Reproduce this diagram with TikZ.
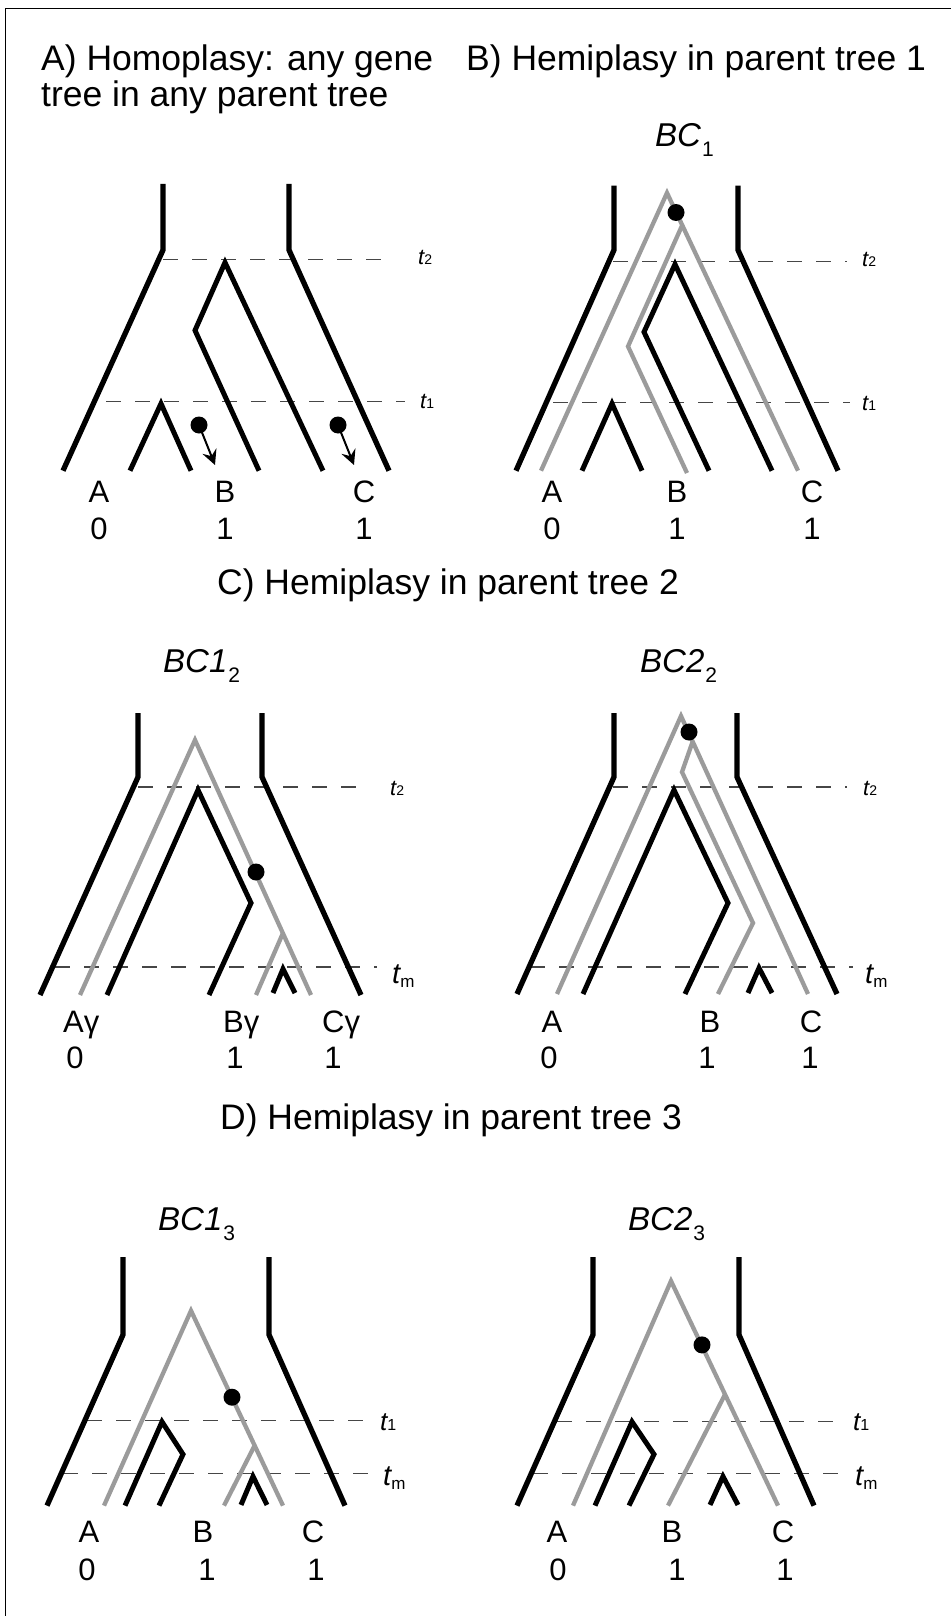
\documentclass[tikz,border=0pt]{standalone}
\usepackage{fontspec}
\setmainfont{Liberation Sans}
\usetikzlibrary{arrows.meta}
\definecolor{genegray}{RGB}{155,155,155}
\definecolor{dashcol}{RGB}{70,70,70}
\newcommand{\tsmall}[1]{{\fontsize{22}{22}\selectfont\itshape t}{\fontsize{14}{14}\selectfont #1}}
\newcommand{\tbig}[1]{{\fontsize{26}{26}\selectfont\itshape t}{\fontsize{16}{16}\selectfont #1}}
\newcommand{\tmlab}{{\fontsize{29}{29}\selectfont\itshape t}\raisebox{-4pt}{\fontsize{17}{17}\selectfont m}}
\newcommand{\hdlab}[2]{{\itshape #1}\kern1pt\raisebox{-10.5pt}{\fontsize{21}{21}\selectfont #2}}
\begin{document}
\begin{tikzpicture}[x=1pt,y=-1pt,
  sp/.style={line width=5.3, black, line join=miter, line cap=butt},
  gn/.style={line width=4.3, genegray, line join=miter, line cap=butt},
  gb/.style={line width=5.0, black, line join=miter, line cap=butt},
  tline/.style={line width=1.1, dashcol, dash pattern=on 15 off 14},
  mut/.style={fill=black},
  ttl/.style={font=\fontsize{35.5}{40}\selectfont, inner sep=0, anchor=base west},
  lab/.style={font=\fontsize{31}{33}\selectfont, inner sep=0, anchor=base},
  hd/.style={font=\fontsize{33}{35}\selectfont, inner sep=0, anchor=base west},
  tl/.style={inner sep=0, anchor=base west},
  mutarrow/.style={line width=2, -{Stealth[length=15, width=15, inset=5.5]}}]
\useasboundingbox (0,0) rectangle (951,1616);
\fill[white] (0,0) rectangle (951,1616);
\draw[line width=1.5] (5.5,1616) -- (5.5,8.5) -- (951,8.5);

% ---------------- titles
\node[ttl] (titA1) at (41,71) {A) Homoplasy: any gene};
\node[ttl] (titA2) at (41,107) {tree in any parent tree};
\node[ttl] (titB) at (466,71) {B) Hemiplasy in parent tree 1};
\node[ttl, anchor=base] (titC) at (448,594) {C) Hemiplasy in parent tree 2};
\node[ttl, anchor=base] (titD) at (451,1129) {D) Hemiplasy in parent tree 3};

% ---------------- panel A
\draw[tline] (163,259.6) -- (393,259.6);
\draw[tline] (106,401.8) -- (405,401.8);
\draw[sp] (163,184) -- (163,250) -- (63,470.7);
\draw[sp] (289,184) -- (289,250) -- (389,470.7);
\draw[gb] (130,470.7) -- (161,403.6) -- (191,470.7);
\draw[gb] (259,470.7) -- (195,330.4) -- (225,262.5) -- (323,470.7);
\coordinate (mA1) at (199,425);
\coordinate (mA1t) at (215,465);
\coordinate (mA2) at (338,425);
\coordinate (mA2t) at (354,465);
\draw[mutarrow] (mA1) -- (mA1t);
\draw[mutarrow] (mA2) -- (mA2t);
\fill[mut] (mA1) circle (8.5);
\fill[mut] (mA2) circle (8.5);
\node[tl] (tA2) at (418,264) {\tsmall{2}};
\node[tl] (tA1) at (420,408) {\tsmall{1}};
\node[lab] (lAa) at (99,502) {A};
\node[lab] (lAb) at (225,502) {B};
\node[lab] (lAc) at (364,502) {C};
\node[lab] (dAa) at (99,539) {0};
\node[lab] (dAb) at (225,539) {1};
\node[lab] (dAc) at (364,539) {1};

% ---------------- panel B
\node[hd] (hB) at (655,146.5) {\hdlab{BC}{1}};
\draw[tline] (613,261.8) -- (847,261.8);
\draw[tline] (553,402.9) -- (850,402.9);
\draw[sp] (614,185.7) -- (614,250) -- (516,470.7);
\draw[sp] (738,185.7) -- (738,250) -- (838,470.7);
\draw[gb] (582,470.7) -- (612,403.6) -- (642,470.7);
\draw[gb] (709,470.7) -- (644,332) -- (675,264.3) -- (772,470.7);
\draw[gn] (541,470.7) -- (667,192.9) -- (798,470.7);
\draw[gn] (682.3,225) -- (628,346.4) -- (687,473);
\fill[mut] (676,212.5) circle (8.5);
\node[tl] (tB2) at (862,266) {\tsmall{2}};
\node[tl] (tB1) at (862,410) {\tsmall{1}};
\node[lab] (lBa) at (552,502) {A};
\node[lab] (lBb) at (677,502) {B};
\node[lab] (lBc) at (812,502) {C};
\node[lab] (dBa) at (552,539) {0};
\node[lab] (dBb) at (677,539) {1};
\node[lab] (dBc) at (812,539) {1};

% ---------------- panel C left
\node[hd] (hC1) at (163,672) {\hdlab{BC1}{2}};
\draw[tline] (138,787) -- (370,787);
\draw[tline] (55,967) -- (377,967);
\draw[sp] (138,713) -- (138,777) -- (40,995);
\draw[sp] (262,713) -- (262,777) -- (361,995);
\draw[gn] (80,995) -- (195,740) -- (311,995);
\draw[gn] (283,933) -- (256,995);
\draw[gb] (107,995) -- (198,790) -- (251,903) -- (209,995);
\draw[gb] (273,993) -- (283,969) -- (295,993);
\fill[mut] (256,872) circle (8.5);
\node[tl] (tC12) at (390,795) {\tsmall{2}};
\node[tl] (tC1m) at (392,983) {\tmlab};
\node[lab, anchor=base west] (lC1a) at (63,1032) {Aγ};
\node[lab, anchor=base west] (lC1b) at (223,1032) {Bγ};
\node[lab, anchor=base west] (lC1c) at (322,1032) {Cγ};
\node[lab] (dC1a) at (75,1068) {0};
\node[lab] (dC1b) at (235,1068) {1};
\node[lab] (dC1c) at (333,1068) {1};

% ---------------- panel C right
\node[hd] (hC2) at (640,672) {\hdlab{BC2}{2}};
\draw[tline] (613,787) -- (847,787);
\draw[tline] (530,967) -- (853,967);
\draw[sp] (614,713) -- (614,777) -- (517,994);
\draw[sp] (737,713) -- (737,777) -- (837,994);
\draw[gn] (557,994) -- (681,716) -- (808,994);
\draw[gn] (692.5,742) -- (682,772) -- (753,923) -- (718,994);
\draw[gb] (583,994) -- (674,790) -- (728,903) -- (685,994);
\draw[gb] (748,993) -- (759,968) -- (772,993);
\fill[mut] (689,732) circle (8.5);
\node[tl] (tC22) at (863,795) {\tsmall{2}};
\node[tl] (tC2m) at (865,983) {\tmlab};
\node[lab] (lC2a) at (552,1032) {A};
\node[lab] (lC2b) at (710,1032) {B};
\node[lab] (lC2c) at (811,1032) {C};
\node[lab] (dC2a) at (549,1068) {0};
\node[lab] (dC2b) at (707,1068) {1};
\node[lab] (dC2c) at (810,1068) {1};

% ---------------- panel D left
\node[hd] (hD1) at (158,1230.4) {\hdlab{BC1}{3}};
\draw[tline] (87,1420.8) -- (372,1420.8);
\draw[tline] (63,1473.1) -- (372,1473.1);
\draw[sp] (123,1257) -- (123,1334.7) -- (47,1505.6);
\draw[sp] (269,1257) -- (269,1334.7) -- (345,1505.6);
\draw[gn] (104,1505.6) -- (191,1310.7) -- (283,1505.6);
\draw[gn] (254.5,1445.8) -- (224,1505.6);
\draw[gb] (125,1505.6) -- (162,1421.8) -- (183,1454.3) -- (159,1505.6);
\draw[gb] (241,1504.9) -- (253,1476.5) -- (267,1504.9);
\fill[mut] (232,1397.2) circle (8.5);
\node[tl] (tD11) at (380,1430) {\tbig{1}};
\node[tl] (tD1m) at (383,1485) {\tmlab};
\node[lab] (lD1a) at (89,1542) {A};
\node[lab] (lD1b) at (203,1542) {B};
\node[lab] (lD1c) at (313,1542) {C};
\node[lab] (dD1a) at (87,1580.5) {0};
\node[lab] (dD1b) at (207,1580.5) {1};
\node[lab] (dD1c) at (316,1580.5) {1};

% ---------------- panel D right
\node[hd] (hD2) at (628,1230.4) {\hdlab{BC2}{3}};
\draw[tline] (557,1421.2) -- (842,1421.2);
\draw[tline] (533,1473.8) -- (842,1473.8);
\draw[sp] (593,1257) -- (593,1334.7) -- (517,1505.6);
\draw[sp] (739,1257) -- (739,1334.7) -- (814,1505.6);
\draw[gn] (573,1505.6) -- (671,1281) -- (778,1505.6);
\draw[gn] (725,1394.5) -- (668,1505.6);
\draw[gb] (595,1505.6) -- (632,1421.8) -- (654,1454.3) -- (629,1505.6);
\draw[gb] (710,1504.9) -- (723,1476.5) -- (738,1504.9);
\fill[mut] (702,1344.9) circle (8.5);
\node[tl] (tD21) at (853,1430) {\tbig{1}};
\node[tl] (tD2m) at (855,1485) {\tmlab};
\node[lab] (lD2a) at (557,1542) {A};
\node[lab] (lD2b) at (672,1542) {B};
\node[lab] (lD2c) at (783,1542) {C};
\node[lab] (dD2a) at (558,1580.5) {0};
\node[lab] (dD2b) at (677,1580.5) {1};
\node[lab] (dD2c) at (785,1580.5) {1};
\end{tikzpicture}
\end{document}
